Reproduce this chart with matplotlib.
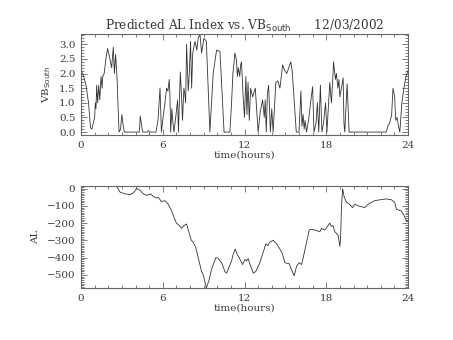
import matplotlib
matplotlib.use("Agg")
import matplotlib.pyplot as plt
from matplotlib.ticker import MultipleLocator, FormatStrFormatter

# ---------------- data ----------------
vb_time = [
    0, 0.2, 0.37, 0.55, 0.7, 0.8, 0.9, 1.0, 1.05, 1.1, 1.15, 1.22, 1.3, 1.38, 1.47, 1.55, 1.6, 1.7, 1.83, 1.95,
    2.08, 2.25, 2.37, 2.45, 2.54, 2.65, 2.79, 2.9, 3.0, 3.1, 3.18,
    4.28, 4.35, 4.52, 4.85, 4.94, 5.03, 5.5, 5.65, 5.8, 5.9, 6.05, 6.16, 6.28, 6.38, 6.48, 6.53, 6.58, 6.67, 6.75,
    6.82, 6.95, 7.09, 7.15,
    7.29, 7.38, 7.45, 7.55, 7.62, 7.68, 7.75, 7.87, 7.95, 8.04, 8.12, 8.2, 8.37, 8.5, 8.6, 8.73, 8.85, 9.02, 9.2, 9.46,
    9.7, 9.95, 10.2, 10.5,
    10.93, 11.05, 11.15, 11.3, 11.4, 11.48, 11.55, 11.65, 11.72, 11.78, 11.9, 12.0, 12.1, 12.18, 12.26, 12.35, 12.45,
    12.6, 12.79, 13.0,
    13.16, 13.33, 13.45, 13.52, 13.6, 13.68, 13.77, 13.9, 14.0, 14.1, 14.3, 14.45, 14.6, 14.8, 14.95, 15.1, 15.25,
    15.4, 15.5, 15.8,
    16.0, 16.14, 16.22, 16.3, 16.38, 16.45, 16.55, 16.7, 16.9, 17.0, 17.1, 17.25, 17.35, 17.45, 17.57, 17.68, 17.8,
    17.95, 18.05, 18.26, 18.38, 18.5, 18.53, 18.68, 18.75, 18.85, 18.93, 19.0, 19.24, 19.3, 19.36, 19.53, 19.68,
    22.4, 22.52, 22.65, 22.8, 22.9, 23.02, 23.1, 23.2, 23.3, 23.4, 23.55, 23.7, 23.85, 24.0,
]
vb_south = [
    2.1, 1.9, 1.6, 1.0, 0.15, 0.1, 0.3, 0.5, 1.0, 0.8, 1.6, 1.0, 1.6, 1.1, 1.9, 1.5, 1.9, 2.0, 2.5, 2.85,
    2.6, 2.2, 2.9, 2.0, 2.65, 1.8, 0.0, 0.1, 0.6, 0.2, 0.0,
    0.0, 0.55, 0.0, 0.0, 0.05, 0.0, 0.0, 0.4, 1.5, 0.0, 0.6, 1.0, 1.5, 1.4, 1.8, 1.2, 0.0, 0.8, 0.3,
    0.0, 0.5, 1.1, 0.0,
    2.05, 1.2, 0.4, 1.5, 1.3, 1.0, 3.0, 1.4, 2.0, 3.1, 1.5, 2.7, 3.1, 2.8, 3.2, 3.35, 2.7, 3.2, 3.1, 0.0,
    2.0, 2.8, 2.75, 0.0,
    0.0, 1.0, 2.0, 2.7, 2.5, 1.9, 2.2, 1.9, 2.3, 2.4, 1.2, 0.5, 1.9, 0.6, 1.7, 0.4, 1.5,
    1.2, 1.5, 0.0,
    0.7, 1.1, 0.5, 1.1, 0.0, 1.3, 1.6, 0.0, 0.8, 0.0, 1.7, 1.75, 1.5, 2.3, 2.1, 2.0, 2.2,
    2.4, 2.1, 0.0,
    0.0, 1.4, 0.2, 0.6, 0.1, 0.4, 0.0, 0.4, 1.2, 1.55, 0.0, 0.3, 1.0, 0.0, 1.6, 0.0, 0.3,
    1.0, 0.0, 1.7, 1.0, 2.0, 2.4, 1.8, 2.0, 1.5, 1.8, 1.2, 1.85, 0.3, 0.0, 1.65, 0.0,
    0.0, 0.2, 0.3, 0.6, 1.5, 1.2, 0.4, 0.5, 0.2, 0.0, 1.0, 1.5, 1.9, 2.1,
]

al_time = [
    0, 2.6, 2.86, 3.2, 3.6, 3.85, 4.08, 4.33, 4.57, 4.82, 5.1, 5.3, 5.55, 5.67, 5.9, 6.16, 6.4, 6.65, 6.82, 7.0,
    7.16, 7.38, 7.55, 7.75, 7.87, 8.1, 8.22, 8.42, 8.6, 8.85, 8.97, 9.2, 9.4, 9.57, 9.9, 10.07, 10.32, 10.56, 10.68,
    11.05, 11.17, 11.32, 11.46, 11.61, 11.86, 12.03, 12.15, 12.27, 12.39, 12.64, 12.83, 13.12, 13.37, 13.57, 13.71,
    13.86, 14.1, 14.35, 14.6, 14.79, 14.96, 15.28, 15.45, 15.65, 15.82, 16.01, 16.19, 16.31, 16.5, 16.75, 16.92,
    17.16, 17.53, 17.65, 17.9, 18.26, 18.38, 18.5, 18.63, 18.87, 19.0, 19.05, 19.12, 19.2, 19.32, 19.5, 19.7, 19.93,
    20.1, 20.34, 20.59, 20.83, 21.08, 21.32, 21.56, 21.93, 22.42, 22.79, 23.03, 23.15, 23.5, 23.67, 23.84, 24.0,
]
al_index = [
    15, 15, -20, -30, -35, -25, 0, -10, -30, -40, -30, -45, -55, -50, -75, -70, -90, -130, -165, -200,
    -210, -230, -215, -205, -240, -300, -310, -340, -400, -480, -500, -576, -530, -470, -400, -405, -430, -480, -490,
    -420, -380, -350, -380, -400, -440, -410, -420, -405, -435, -490, -480, -430, -370, -320, -330,
    -310, -300, -320, -350, -380, -430, -435, -470, -505, -450, -430, -440, -400, -330, -240, -235,
    -240, -250, -230, -240, -200, -220, -215, -250, -270, -335, -290, -100, 0, -50, -80, -90, -110,
    -90, -100, -105, -110, -90, -80, -70, -65, -60, -65, -80, -120, -130, -150, -180, -190,
]

x_ticks = [0, 6, 12, 18, 24]
title_text = r"Predicted AL Index vs. VB$_{\rm South}$      12/03/2002"

# ---------------- styling ----------------
plt.rcParams["font.family"] = ["DejaVu Serif"]
plt.rcParams["mathtext.default"] = "regular"
text_col = "#3a3a3a"
frame_col = "#666666"
line_col = "#333333"

fig = plt.figure(figsize=(4.53, 3.40), dpi=100)
ax1 = fig.add_axes([81 / 453, 1 - 135 / 340, 327 / 453, 101 / 340])
ax2 = fig.add_axes([81 / 453, 1 - 288 / 340, 327 / 453, 102 / 340])


def style(ax, ymajor, yminor):
    ax.set_xlim(0, 24)
    ax.set_xticks(x_ticks)
    ax.xaxis.set_minor_locator(MultipleLocator(1))
    ax.yaxis.set_major_locator(MultipleLocator(ymajor))
    ax.yaxis.set_minor_locator(MultipleLocator(yminor))
    ax.tick_params(which="both", direction="in", top=True, right=True,
                   colors=frame_col, labelcolor=text_col, labelsize=7.5, width=0.6)
    ax.tick_params(which="major", length=4.5, pad=4)
    ax.tick_params(which="minor", length=2.5)
    for s in ax.spines.values():
        s.set_color(frame_col)
        s.set_linewidth(0.8)
    ax.set_xlabel("time(hours)", fontsize=7.5, color=text_col, labelpad=1)


ax1.plot(vb_time, vb_south, color=line_col, lw=0.6)
style(ax1, 0.5, 0.1)
ax1.set_ylim(-0.1, max(vb_south))
ax1.yaxis.set_major_formatter(FormatStrFormatter("%.1f"))
ax1.set_ylabel(r"VB$_{\rm South}$", fontsize=7.5, color=text_col, labelpad=4)
ax1.set_title(title_text, fontsize=8.7, color=text_col, pad=3)

ax2.plot(al_time, al_index, color=line_col, lw=0.6)
style(ax2, 100, 10)
ax2.set_ylim(min(al_index), max(al_index))
ax2.set_ylabel("AL", fontsize=7.5, color=text_col, labelpad=5)

fig.savefig("out.png", dpi=100)
